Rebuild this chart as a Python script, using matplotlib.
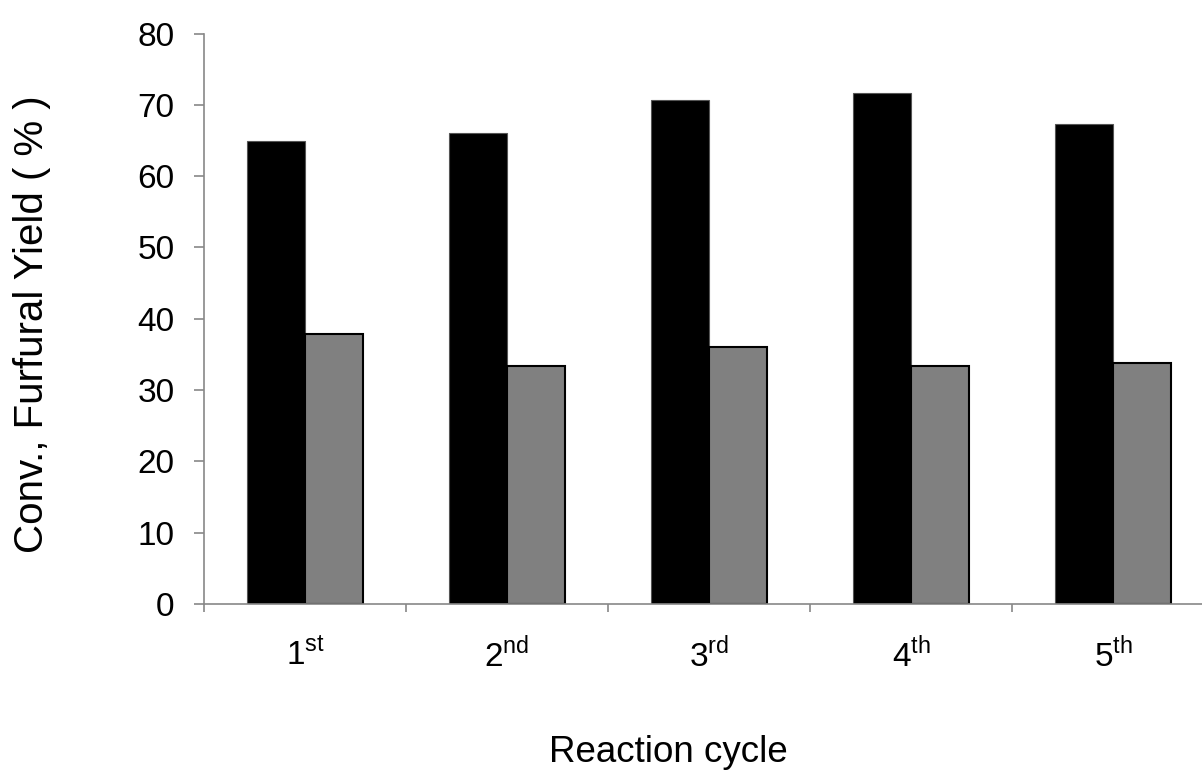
import numpy as np
import matplotlib.pyplot as plt

plt.rcParams['font.family'] = ['Liberation Sans', 'DejaVu Sans']
plt.rcParams['mathtext.fontset'] = 'custom'
plt.rcParams['mathtext.rm'] = 'Liberation Sans'

# Data
cycles = [r'1$^{\rm st}$', r'2$^{\rm nd}$', r'3$^{\rm rd}$', r'4$^{\rm th}$', r'5$^{\rm th}$']
conversion = [64.9, 66.0, 70.7, 71.7, 67.3]
furfural_yield = [37.8, 33.4, 36.1, 33.4, 33.8]

x = np.arange(len(cycles))
w = 0.285

fig = plt.figure(figsize=(12.02, 7.73), dpi=100)
ax = fig.add_axes([204 / 1202, 169 / 773, 1010 / 1202, 570.5 / 773])

ax.bar(x - w / 2, conversion, w, color='black', edgecolor='#555555', linewidth=0.8)
ax.bar(x + w / 2, furfural_yield, w, color='#808080', edgecolor='black', linewidth=1.5)

ax.set_xlim(-0.5, 4.5)
ax.set_ylim(0, 80)
ax.set_yticks(np.arange(0, 81, 10))
ax.set_xticks(x)
ax.set_xticklabels(cycles, fontsize=24)
ax.set_xticks(np.arange(-0.5, 5, 1), minor=True)
ax.tick_params(axis='x', which='major', length=0, pad=24)
ax.tick_params(axis='x', which='minor', length=6, width=1.2, color='#888888', direction='out')
ax.tick_params(axis='y', length=7.2, width=1.2, color='#888888', direction='out',
               labelsize=24, pad=14)

for s in ['top', 'right']:
    ax.spines[s].set_visible(False)
for s in ['left', 'bottom']:
    ax.spines[s].set_color('#888888')
    ax.spines[s].set_linewidth(1.2)

fig.text(32 / 1202, 1 - 324 / 773, 'Conv., Furfural Yield ( % )', rotation=90,
         ha='center', va='center', fontsize=29)
fig.text(668 / 1202, 1 - 752 / 773, 'Reaction cycle', ha='center', va='center', fontsize=26.5)

fig.savefig('out.png', dpi=100)
